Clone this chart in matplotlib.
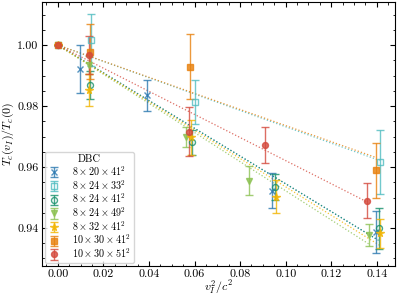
import numpy as np
import matplotlib
matplotlib.use("Agg")
import matplotlib.pyplot as plt
from matplotlib.ticker import MultipleLocator

plt.rcParams.update({
    "font.family": "serif",
    "font.serif": ["cmr10"],
    "mathtext.fontset": "cm",
    "axes.formatter.use_mathtext": True,
    "xtick.direction": "in",
    "ytick.direction": "in",
    "xtick.top": True,
    "ytick.right": True,
    "xtick.major.size": 3.5,
    "ytick.major.size": 3.5,
    "xtick.minor.size": 1.8,
    "ytick.minor.size": 1.8,
    "axes.linewidth": 0.8,
})

# lattice labels (DBC)
labels = [r"$8\times20\times41^2$", r"$8\times24\times33^2$", r"$8\times24\times41^2$",
          r"$8\times24\times49^2$", r"$8\times32\times41^2$", r"$10\times30\times41^2$",
          r"$10\times30\times51^2$"]
colors = ["#2a78b0", "#4fbcc0", "#16906c", "#8cc152", "#f2b400", "#e8800c", "#d4493c"]
markers = ["x", "s", "o", "v", "*", "s", "o"]
filled = [True, False, False, True, True, True, True]

# data: v_I^2/c^2, Tc(v_I)/Tc(0), error
x_8x20x41 = [0.0, 0.0096, 0.0390, 0.0942, 0.1395]
y_8x20x41 = [1.0, 0.9921, 0.9836, 0.9522, 0.9387]
e_8x20x41 = [0.0, 0.0079, 0.0051, 0.0057, 0.0070]

x_8x24x33 = [0.0, 0.0145, 0.0602, 0.1412]
y_8x24x33 = [1.0, 1.0016, 0.9813, 0.9616]
e_8x24x33 = [0.0, 0.0085, 0.0072, 0.0104]

x_8x24x41 = [0.0, 0.0140, 0.0589, 0.0952, 0.1409]
y_8x24x41 = [1.0, 0.9868, 0.9681, 0.9535, 0.9399]
e_8x24x41 = [0.0, 0.0046, 0.0042, 0.0042, 0.0068]

x_8x24x49 = [0.0, 0.0136, 0.0564, 0.0839, 0.1364]
y_8x24x49 = [1.0, 0.9934, 0.9699, 0.9555, 0.9377]
e_8x24x49 = [0.0, 0.0030, 0.0032, 0.0048, 0.0035]

x_8x32x41 = [0.0, 0.0137, 0.0586, 0.0956, 0.1415]
y_8x32x41 = [1.0, 0.9852, 0.9697, 0.9503, 0.9383]
e_8x32x41 = [0.0, 0.0052, 0.0057, 0.0055, 0.0048]

x_10x30x41 = [0.0, 0.0143, 0.0579, 0.1395]
y_10x30x41 = [1.0, 0.9978, 0.9929, 0.9590]
e_10x30x41 = [0.0, 0.0090, 0.0107, 0.0090]

x_10x30x51 = [0.0, 0.0136, 0.0576, 0.0908, 0.1358]
y_10x30x51 = [1.0, 0.9967, 0.9716, 0.9672, 0.9489]
e_10x30x51 = [0.0, 0.0062, 0.0080, 0.0060, 0.0057]

# slopes of the dotted linear fits Tc/Tc(0) = 1 - a v^2/c^2
slopes = [0.455, 0.268, 0.455, 0.478, 0.465, 0.264, 0.379]

xs = [x_8x20x41, x_8x24x33, x_8x24x41, x_8x24x49, x_8x32x41, x_10x30x41, x_10x30x51]
ys = [y_8x20x41, y_8x24x33, y_8x24x41, y_8x24x49, y_8x32x41, y_10x30x41, y_10x30x51]
es = [e_8x20x41, e_8x24x33, e_8x24x41, e_8x24x49, e_8x32x41, e_10x30x41, e_10x30x51]

fig = plt.figure(figsize=(3.99, 2.99), dpi=100)
ax = fig.add_axes([0.105, 0.11, 0.885, 0.883])

for i in range(len(labels)):
    xi = np.array(xs[i])
    xl = np.linspace(0, xi.max(), 50)
    ax.plot(xl, 1 - slopes[i] * xl, ls=":", lw=0.9, color=colors[i], alpha=0.8)

for i in range(len(labels)):
    ms = 5.5 if markers[i] == "*" else 4.3
    ax.errorbar(xs[i], ys[i], yerr=es[i], fmt=markers[i], color=colors[i],
                ms=ms, mfc=colors[i] if filled[i] else "none", mec=colors[i],
                mew=1.0, ecolor=colors[i], elinewidth=1.0, capsize=3,
                capthick=1.0, alpha=0.8, label=labels[i])

ax.set_xlim(-0.007, 0.148)
ax.set_ylim(0.9275, 1.0141)
ax.xaxis.set_major_locator(MultipleLocator(0.02))
ax.xaxis.set_minor_locator(MultipleLocator(0.005))
ax.yaxis.set_major_locator(MultipleLocator(0.02))
ax.yaxis.set_minor_locator(MultipleLocator(0.005))
ax.xaxis.set_major_formatter(plt.FormatStrFormatter("%.2f"))
ax.yaxis.set_major_formatter(plt.FormatStrFormatter("%.2f"))
ax.tick_params(labelsize=8.6, pad=2.5)

ax.set_xlabel(r"$v_I^2/c^2$", fontsize=8.6, labelpad=0)
ax.set_ylabel(r"$T_c(v_I)/T_c(0)$", fontsize=8.6, labelpad=0.5)

leg = ax.legend(loc="lower left", title="DBC", fontsize=7.3, title_fontsize=7.5,
                handlelength=1.2, handletextpad=1.2, labelspacing=0.02,
                borderpad=0.3, borderaxespad=0.3, frameon=True)

fig.savefig("out.png", dpi=100)
